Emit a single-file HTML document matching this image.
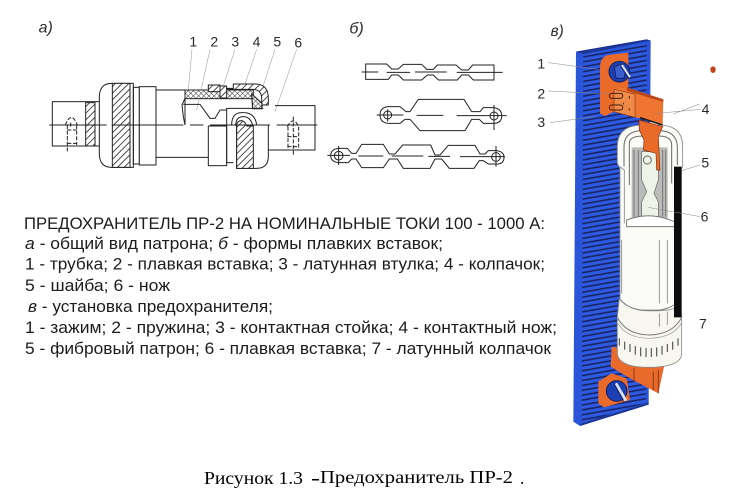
<!DOCTYPE html>
<html lang="ru">
<head>
<meta charset="utf-8">
<title>Предохранитель ПР-2</title>
<style>
html,body{margin:0;padding:0;background:#fff}
svg{display:block}
.t{font-family:"Liberation Sans","DejaVu Sans",sans-serif;font-size:16.2px;fill:#1c1c1c}
.c{font-family:"Liberation Serif","DejaVu Serif",serif;font-size:17.5px;fill:#000}
.lb{font-family:"Liberation Sans","DejaVu Sans",sans-serif;font-size:42px;fill:#2c2c2c}
.it{font-style:italic}
</style>
</head>
<body>
<svg width="731" height="496" viewBox="0 0 731 496" xmlns="http://www.w3.org/2000/svg">
<defs>
<filter id="b" x="-5%" y="-5%" width="110%" height="110%"><feGaussianBlur stdDeviation="0.3"/></filter>
<pattern id="h" width="14" height="14" patternUnits="userSpaceOnUse" patternTransform="rotate(45)"><rect width="14" height="14" fill="#fff"/><rect width="2.6" height="14" fill="#333"/></pattern>
<pattern id="hx" width="11" height="11" patternUnits="userSpaceOnUse" patternTransform="rotate(45)"><rect width="11" height="11" fill="#fff"/><path d="M0 0H11M0 0V11" stroke="#222" stroke-width="2.8"/></pattern>
<pattern id="board" width="60" height="14.7" patternUnits="userSpaceOnUse" patternTransform="skewY(-10)"><rect width="60" height="14.7" fill="#2f5ae0"/><rect y="5" width="60" height="4.6" fill="#15205f"/></pattern>
</defs>

<!-- a) -->
<g transform="translate(30,10) scale(.33333)" fill="none" stroke="#222" stroke-width="3" filter="url(#b)">
<text x="26" y="68" class="lb it" stroke="none" style="font-size:48px">а)</text>
<g stroke="none"><text x="478" y="110" class="lb">1</text><text x="541" y="110" class="lb">2</text><text x="604" y="110" class="lb">3</text><text x="668" y="110" class="lb">4</text><text x="730" y="110" class="lb">5</text><text x="793" y="112" class="lb">6</text></g>
<path d="M486 118L475 240M540 118L500 300M615 118L580 228M680 118L645 222M735 118L700 226M800 118L735 305" stroke="#999" stroke-width="1.6"/>
<rect x="67" y="275" width="143" height="133"/>
<rect x="167" y="278" width="28" height="130" fill="url(#h)"/>
<path d="M245 220H310V472H245Q208 472 208 430V262Q208 220 245 220Z" fill="#fff"/>
<rect x="247" y="220" width="53" height="252" fill="url(#h)"/>
<rect x="310" y="232" width="18" height="230"/>
<rect x="328" y="230" width="50" height="235" fill="#fff"/>
<path d="M378 240H465M378 442H535"/>
<path d="M465 265V345M465 265L456 285L460 320L465 345M460 283H510L540 325H555L570 300H590"/>
<rect x="465" y="240" width="205" height="26" fill="url(#hx)"/>
<rect x="535" y="225" width="35" height="20" fill="url(#h)"/>
<rect x="570" y="228" width="20" height="36" fill="url(#h)"/>
<path d="M590 235H610V222H680Q715 225 715 265V285H695V265Q695 240 670 238H590Z" fill="url(#h)"/>
<path d="M665 252L696 280V296H668Z" fill="url(#hx)" stroke-width="3.5"/>
<path d="M590 345V295H700M735 287H855V420H715"/>
<rect x="535" y="348" width="55" height="119" fill="#fff"/>
<path d="M590 348V458H610M715 345V440Q715 475 680 475H620V345"/>
<path d="M605 345Q605 305 640 308Q675 308 680 345M617 348Q617 320 640 320Q660 320 668 345"/>
<path d="M620 345Q622 332 635 332Q645 334 650 348L670 348V475H620Z" fill="url(#h)"/>
<path d="M112 378V425M122 338V352M106 345Q124 300 142 345M112 360H140M112 400H140M112 345V405M140 345V405" stroke-dasharray="12 5"/>
<path d="M790 320V435M772 350Q790 315 806 350M772 380H806M772 410H806M774 350V420M806 350V420" stroke-dasharray="12 5"/>
<path d="M58 345H230M245 345H460M480 345H520M540 345H720M740 345H862" stroke-width="3"/>
</g>

<!-- б) -->
<g transform="translate(320,10) scale(.33333)" fill="none" stroke="#222" stroke-width="3" filter="url(#b)">
<text x="88" y="70" class="lb it" stroke="none" style="font-size:48px">б)</text>
<path d="M137 162H200L215 177H235L250 163H305L320 178H340L352 165H408L425 180H445L458 165H522V210H460L445 195H425L412 210H355L340 195H322L305 210H250L235 195H215L205 208H137Z"/>
<path d="M125 186H175M200 187H270M285 186H380M410 187H548" stroke-width="3"/>
<path d="M205 290H240L258 305H270L295 268H432L455 305H480L490 293H520Q545 295 545 318Q545 340 520 340H490L478 328H455L435 362H300L270 328H255L240 340H205Q180 338 180 315Q180 292 205 290Z"/>
<circle cx="203" cy="315" r="12"/><circle cx="522" cy="318" r="12"/>
<path d="M170 315H250M290 316H370M410 317H560M203 298V335M522 285V360" stroke-width="3"/>
<path d="M55 415H82L95 430H108L125 403H190L208 432H225L248 405H332L345 435H360L385 406H465L480 432H495L505 422H530Q552 425 552 442Q552 462 530 462H505L490 452H478L462 475H388L365 447H345L330 475H250L232 447H208L190 473H125L108 447H95L85 458H55Q32 455 32 437Q32 418 55 415Z"/>
<circle cx="56" cy="437" r="13"/><circle cx="528" cy="441" r="13"/>
<path d="M22 436H90M115 438H190M215 438H310M325 439H390M420 440H555M56 408V465M528 408V470" stroke-width="3"/>
</g>

<!-- в) -->
<g transform="translate(530,10) scale(.33333)" filter="url(#b)">
<text x="62" y="78" class="lb it" style="font-size:46px">в)</text>
<path d="M138 125L350 88L362 92L356 1180L150 1248L130 1235Z" fill="#2b55d8"/>
<path d="M138 125L350 88L362 92L160 132Z" fill="#1c3494"/>
<path d="M160 135L350 100L348 1178L155 1240Z" fill="url(#board)"/>
<path d="M150 1248L155 1240L356 1178V1184Z" fill="#1c3494"/>
<!-- upper bracket -->
<path d="M210 170Q212 140 235 135L295 128V232L252 240V305L225 318L210 310Z" fill="#ea6b2b"/>
<circle cx="268" cy="185" r="31" fill="#1f3fb4" stroke="#13205f" stroke-width="3"/>
<path d="M253 170L275 162L288 180L282 205L258 205Z" fill="#3a5ed0" stroke="#13205f" stroke-width="3"/>
<path d="M276 165L300 202" stroke="#dfe4f5" stroke-width="6"/><path d="M272 168L295 205" stroke="#13205f" stroke-width="2.5"/>
<path d="M252 238L290 232L400 268L398 345L330 325L250 305Z" fill="#ef7430"/>
<path d="M290 232L400 268V276L290 242Z" fill="#b8481a"/>
<path d="M252 238L315 252V322L252 305Z" fill="#f08a48" stroke="#8a3a12" stroke-width="2"/>
<g fill="none" stroke="#40200f" stroke-width="3"><rect x="238" y="250" width="40" height="15" rx="7"/><rect x="238" y="285" width="40" height="15" rx="7"/></g>
<path d="M298 258v8M298 295v6M280 278v5" stroke="#40200f" stroke-width="3"/>
<!-- fuse body -->
<path d="M262 460V410Q262 345 340 345H385Q458 345 458 410V470L452 480V900H270V475Z" fill="#fbfbf8" stroke="#888" stroke-width="2.5"/>
<path d="M282 470V410Q282 362 340 362H385Q440 362 442 410V465M298 525V400Q298 378 340 378H385Q425 378 425 405V520" fill="none" stroke="#666" stroke-width="3"/>
<path d="M270 470L283 480V640" fill="none" stroke="#888" stroke-width="2.5"/>
<rect x="305" y="412" width="108" height="215" fill="#b9bcb8"/>
<path d="M312 420V620M325 420V620M398 420V620M407 420V620" stroke="#777" stroke-width="3"/>
<path d="M335 425H385V510L372 550L385 575V630H335V575L350 545L335 510Z" fill="#eef3e8" stroke="#666" stroke-width="2"/>
<circle cx="352" cy="450" r="12" fill="none" stroke="#666" stroke-width="3"/>
<path d="M290 630Q355 605 420 630Q450 640 432 650H290Z" fill="#fff" stroke="#666" stroke-width="2.5"/>
<path d="M275 690V850M388 690V880M412 690V880" stroke="#888" stroke-width="2.5"/>
<!-- knife lower part -->
<path d="M327 330L398 350L385 380L390 480L380 480L378 430L340 420L342 390L328 360Z" fill="#ea6b2b" stroke="#7d3410" stroke-width="2"/>
<path d="M330 323L398 345" stroke="#222" stroke-width="5"/>
<!-- lower orange -->
<path d="M245 1010L242 1070L300 1105L385 1150L402 1070V1040Z" fill="#e96a2a"/>
<path d="M312 1075V1115M370 1085V1140M385 1080V1150" stroke="#8a3a12" stroke-width="3"/>
<path d="M205 1115L245 1090L290 1105L300 1170L222 1192L205 1180Z" fill="#ea6b2b"/>
<circle cx="260" cy="1143" r="31" fill="#1f3fb4" stroke="#13205f" stroke-width="3"/>
<path d="M258 1120L288 1172" stroke="#dfe4f5" stroke-width="8"/><path d="M254 1124L280 1175" stroke="#13205f" stroke-width="2.5"/>
<!-- cap -->
<path d="M268 865L262 920V1030Q265 1073 360 1072Q455 1070 455 1030V920L450 885Q430 905 360 902Q290 900 268 865Z" fill="#f8f7ef" stroke="#888" stroke-width="2.5"/>
<path d="M432 470H455V920L432 945Z" fill="#0a0a0a"/>
<path d="M268 865Q300 905 360 902Q405 902 432 885" fill="none" stroke="#777" stroke-width="2.5"/>
<path d="M262 922Q290 975 360 975Q430 972 455 922" fill="#f8f7ef" stroke="#777" stroke-width="3"/>
<path d="M264 940Q290 985 360 985Q430 982 454 940" fill="none" stroke="#999" stroke-width="2"/>
<path d="M268 985v22M284 995v24M300 1002v24M316 1008v26M332 1012v27M348 1014v27M364 1014v27M380 1012v27M396 1008v26M412 1002v24M428 995v24M444 985v22" stroke="#555" stroke-width="3.5"/>
<path d="M388 910V950M412 905V945" stroke="#888" stroke-width="2.5"/>
<!-- leaders -->
<path d="M55 158L205 178M55 243L240 252M60 338L195 320M512 298L380 310M510 465L455 482M510 620L355 592M508 282L430 312" fill="none" stroke="#8a8a8a" stroke-width="1.6"/>
<g stroke="none"><text x="22" y="176" class="lb">1</text><text x="22" y="265" class="lb">2</text><text x="22" y="351" class="lb">3</text><text x="515" y="312" class="lb">4</text><text x="514" y="473" class="lb">5</text><text x="512" y="635" class="lb">6</text><text x="507" y="956" class="lb">7</text></g>
<ellipse cx="549" cy="179" rx="8" ry="10" fill="#c8421c"/>
</g>

<!-- text block -->
<g filter="url(#b)">
<text class="t" x="24" y="229" textLength="521" lengthAdjust="spacingAndGlyphs">ПРЕДОХРАНИТЕЛЬ ПР-2 НА НОМИНАЛЬНЫЕ ТОКИ 100 - 1000 А:</text>
<text class="t" x="25" y="249" textLength="418" lengthAdjust="spacingAndGlyphs"><tspan class="it">а</tspan> - общий вид патрона; <tspan class="it">б</tspan> - формы плавких вставок;</text>
<text class="t" x="25" y="269.500" textLength="520" lengthAdjust="spacingAndGlyphs">1 - трубка; 2 - плавкая вставка; 3 - латунная втулка; 4 - колпачок;</text>
<text class="t" x="25" y="291" textLength="145" lengthAdjust="spacingAndGlyphs">5 - шайба; 6 - нож</text>
<text class="t" x="28" y="312" textLength="245" lengthAdjust="spacingAndGlyphs"><tspan class="it">в</tspan> - установка предохранителя;</text>
<text class="t" x="25" y="333" textLength="532" lengthAdjust="spacingAndGlyphs">1 - зажим; 2 - пружина; 3 - контактная стойка; 4 - контактный нож;</text>
<text class="t" x="25" y="354" textLength="526" lengthAdjust="spacingAndGlyphs">5 - фибровый патрон; 6 - плавкая вставка; 7 - латунный колпачок</text>
</g>

<!-- caption -->
<text class="c" x="204" y="484" textLength="99" lengthAdjust="spacingAndGlyphs">Рисунок 1.3</text>
<text class="c" x="311" y="484" textLength="9" lengthAdjust="spacingAndGlyphs" font-weight="bold">-</text>
<text class="c" x="320" y="483" textLength="193" lengthAdjust="spacingAndGlyphs">Предохранитель ПР-2</text>
<text class="c" x="520" y="484">.</text>
</svg>
</body>
</html>
